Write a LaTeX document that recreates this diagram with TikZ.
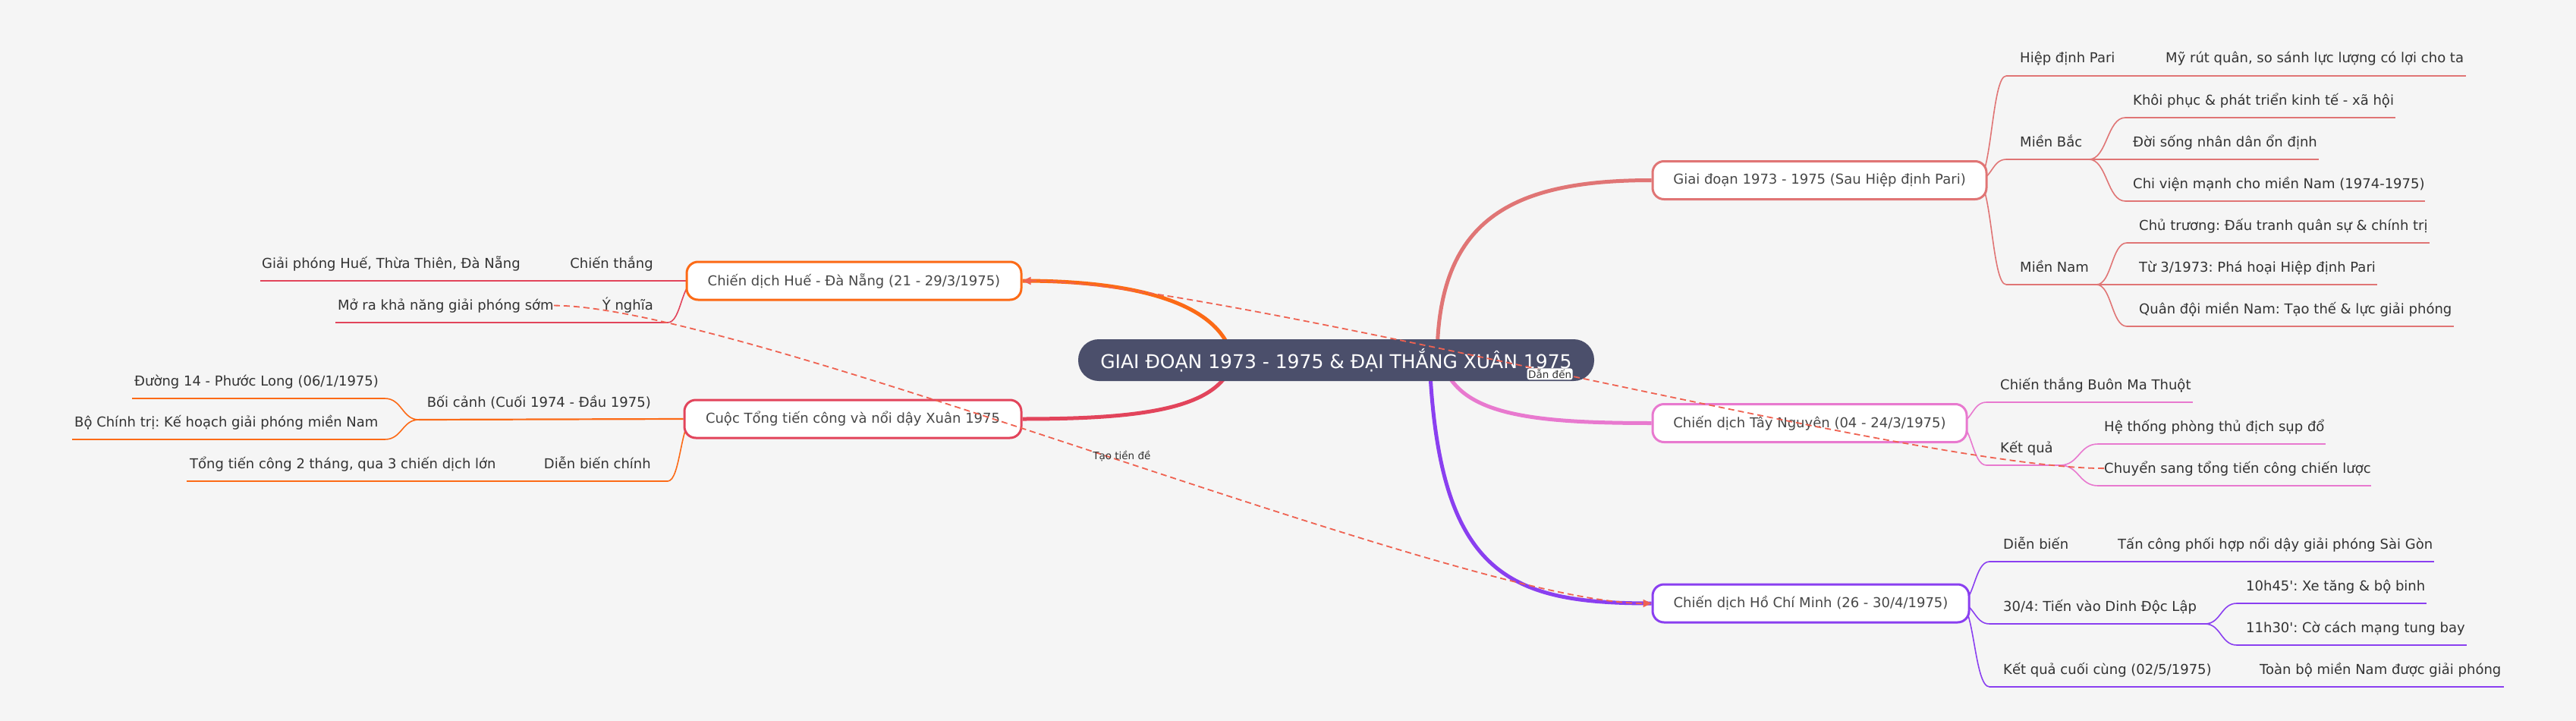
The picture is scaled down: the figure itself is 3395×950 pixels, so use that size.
\documentclass[tikz,border=0pt]{standalone}
\usepackage{fontspec}
\setmainfont{DejaVu Sans}[Ligatures=TeXOff]
\frenchspacing
\usetikzlibrary{arrows.meta}
\pgfdeclarelayer{back}
\pgfdeclarelayer{bg}
\pgfsetlayers{back,bg,main}
\definecolor{bgc}{HTML}{F5F5F5}
\definecolor{cSalmon}{HTML}{E07575}
\definecolor{cPink}{HTML}{E879CF}
\definecolor{cPurple}{HTML}{8A3FF0}
\definecolor{cOrange}{HTML}{FC6A16}
\definecolor{cRed}{HTML}{E2445B}
\definecolor{cDash}{HTML}{EF6251}
\definecolor{cCenter}{HTML}{4B4F6B}
\definecolor{cText}{HTML}{333333}
\begin{document}
\begin{tikzpicture}[x=1pt,y=-1pt,
  centernode/.style={fill=cCenter, rounded corners=27pt, minimum width=680pt, minimum height=55pt, inner sep=0pt, text=white, font=\fontsize{25pt}{30pt}\selectfont},
  branchnode/.style={draw, line width=3pt, rounded corners=15pt, fill=white, minimum height=50pt, inner sep=0pt, text=cText!90!white, font=\fontsize{18pt}{22pt}\selectfont},
  lbl/.style={inner sep=0pt, text=cText, font=\fontsize{18pt}{22pt}\selectfont},
  mainlink/.style={line width=5pt},
  sublink/.style={line width=2.2pt},
  curvelink/.style={line width=1.6pt},
  crosslink/.style={draw=cDash, line width=1.8pt, dash pattern=on 8pt off 5pt, -{Triangle[length=11pt,width=10pt]}},
  linklbl/.style={text=cText, font=\fontsize{13.5pt}{16pt}\selectfont, inner sep=1.5pt}
]
\begin{pgfonlayer}{back}
\fill[bgc] (0,0) rectangle (3395,950);
\end{pgfonlayer}
\useasboundingbox (0,0) rectangle (3395,950);

% ---------- nodes ----------
\node[centernode] (root) at (1761,474.5) {GIAI ĐOẠN 1973 - 1975 \& ĐẠI THẮNG XUÂN 1975};
\node[branchnode, draw=cSalmon, minimum width=440pt] (b1) at (2398,237.5) {Giai đoạn 1973 - 1975 (Sau Hiệp định Pari)};
\node[branchnode, draw=cPink, minimum width=414pt] (b2) at (2385,557.5) {Chiến dịch Tây Nguyên (04 - 24/3/1975)};
\node[branchnode, draw=cPurple, minimum width=417pt] (b3) at (2386.5,795) {Chiến dịch Hồ Chí Minh (26 - 30/4/1975)};
\node[branchnode, draw=cOrange, minimum width=441pt] (b4) at (1125.5,370) {Chiến dịch Huế - Đà Nẵng (21 - 29/3/1975)};
\node[branchnode, draw=cRed, minimum width=444pt] (b5) at (1124,552) {Cuộc Tổng tiến công và nổi dậy Xuân 1975};

% ---------- right texts ----------
\node[lbl, anchor=base west] (t11) at (2662,83) {Hiệp định Pari};
\node[lbl, anchor=base west] (t111) at (2854,83) {Mỹ rút quân, so sánh lực lượng có lợi cho ta};
\node[lbl, anchor=base west] (t12) at (2662,193) {Miền Bắc};
\node[lbl, anchor=base west] (t121) at (2811,138) {Khôi phục \& phát triển kinh tế - xã hội};
\node[lbl, anchor=base west] (t122) at (2811,193) {Đời sống nhân dân ổn định};
\node[lbl, anchor=base west] (t123) at (2811,248) {Chi viện mạnh cho miền Nam (1974-1975)};
\node[lbl, anchor=base west] (t13) at (2662,358) {Miền Nam};
\node[lbl, anchor=base west] (t131) at (2819,303) {Chủ trương: Đấu tranh quân sự \& chính trị};
\node[lbl, anchor=base west] (t132) at (2819,358) {Từ 3/1973: Phá hoại Hiệp định Pari};
\node[lbl, anchor=base west] (t133) at (2819,413) {Quân đội miền Nam: Tạo thế \& lực giải phóng};

\node[lbl, anchor=base west] (t21) at (2636,513) {Chiến thắng Buôn Ma Thuột};
\node[lbl, anchor=base west] (t22) at (2636,596) {Kết quả};
\node[lbl, anchor=base west] (t221) at (2773,568) {Hệ thống phòng thủ địch sụp đổ};
\node[lbl, anchor=base west] (t222) at (2773,623) {Chuyển sang tổng tiến công chiến lược};

\node[lbl, anchor=base west] (t31) at (2640,723) {Diễn biến};
\node[lbl, anchor=base west] (t311) at (2791,723) {Tấn công phối hợp nổi dậy giải phóng Sài Gòn};
\node[lbl, anchor=base west] (t32) at (2640,805) {30/4: Tiến vào Dinh Độc Lập};
\node[lbl, anchor=base west] (t321) at (2960,778) {10h45': Xe tăng \& bộ binh};
\node[lbl, anchor=base west] (t322) at (2960,833) {11h30': Cờ cách mạng tung bay};
\node[lbl, anchor=base west] (t33) at (2640,888) {Kết quả cuối cùng (02/5/1975)};
\node[lbl, anchor=base west] (t331) at (2978,888) {Toàn bộ miền Nam được giải phóng};

% ---------- left texts ----------
\node[lbl, anchor=base east] (t41) at (861,353) {Chiến thắng};
\node[lbl, anchor=base west] (t411) at (345,353) {Giải phóng Huế, Thừa Thiên, Đà Nẵng};
\node[lbl, anchor=base east] (t42) at (861,408) {Ý nghĩa};
\node[lbl, anchor=base west] (t421) at (445,408) {Mở ra khả năng giải phóng sớm};
\node[lbl, anchor=base east] (t51) at (858,536) {Bối cảnh (Cuối 1974 - Đầu 1975)};
\node[lbl, anchor=base west] (t511) at (177,508) {Đường 14 - Phước Long (06/1/1975)};
\node[lbl, anchor=base west] (t512) at (98,562) {Bộ Chính trị: Kế hoạch giải phóng miền Nam};
\node[lbl, anchor=base east] (t52) at (858,617) {Diễn biến chính};
\node[lbl, anchor=base west] (t521) at (250,617) {Tổng tiến công 2 tháng, qua 3 chiến dịch lớn};

% ---------- coordinates ----------
\coordinate (r1) at (1894,474);
\coordinate (r2) at (1900,474);
\coordinate (r3) at (1884,474);
\coordinate (r4) at (1625,474);
\coordinate (r5) at (1625,474);
\coordinate (b1c) at (2606,237.5);
\coordinate (b2c) at (2580,557.5);
\coordinate (b3c) at (2583,795);
\coordinate (b4c) at (917,370);
\coordinate (b5c) at (914,552);

\coordinate (l11s) at (2644,100);  \coordinate (l11e) at (2835,100); \coordinate (l111e) at (3250,100);
\coordinate (l12s) at (2644,210);  \coordinate (l12e) at (2753,210);
\coordinate (l121s) at (2801,155); \coordinate (l121e) at (3157,155);
\coordinate (l122e) at (3056,210);
\coordinate (l123s) at (2801,265); \coordinate (l123e) at (3196,265);
\coordinate (l13s) at (2644,375);  \coordinate (l13e) at (2763,375);
\coordinate (l131s) at (2803,320); \coordinate (l131e) at (3202,320);
\coordinate (l132e) at (3133,375);
\coordinate (l133s) at (2803,430); \coordinate (l133e) at (3234,430);

\coordinate (l21s) at (2618,530);  \coordinate (l21e) at (2890,530);
\coordinate (l22s) at (2618,613);  \coordinate (l22e) at (2715,613);
\coordinate (l221s) at (2765,585); \coordinate (l221e) at (3065,585);
\coordinate (l222s) at (2765,640); \coordinate (l222e) at (3125,640);

\coordinate (l31s) at (2622,740);  \coordinate (l31e) at (2772,740); \coordinate (l311e) at (3208,740);
\coordinate (l32s) at (2622,822);  \coordinate (l32e) at (2906,822);
\coordinate (l321s) at (2948,795); \coordinate (l321e) at (3198,795);
\coordinate (l322s) at (2948,850); \coordinate (l322e) at (3251,850);
\coordinate (l33s) at (2622,905);  \coordinate (l33e) at (2960,905); \coordinate (l331e) at (3300,905);

\coordinate (l41e) at (700,370); \coordinate (l411e) at (343,370);
\coordinate (l42s) at (880,425); \coordinate (l42e) at (740,425); \coordinate (l421e) at (442,425);
\coordinate (l51e) at (552,553);
\coordinate (l511s) at (507,525); \coordinate (l511e) at (174,525);
\coordinate (l512s) at (507,579); \coordinate (l512e) at (95,579);
\coordinate (l52s) at (880,634); \coordinate (l52e) at (700,634); \coordinate (l521e) at (246,634);

% ---------- tree connectors ----------
\begin{pgfonlayer}{bg}
\draw[mainlink, cSalmon] (r1) .. controls (1894,290) and (1990,237.5) .. (b1.west);
\draw[mainlink, cPink] (r2) .. controls (1920,545) and (2010,557.5) .. (b2.west);
\draw[mainlink, cPurple] (r3) .. controls (1896,760) and (1990,795) .. (b3.west);
\draw[mainlink, cOrange] (r4) .. controls (1610,400) and (1500,370) .. (b4.east);
\draw[mainlink, cRed] (r5) .. controls (1610,540) and (1500,552) .. (b5.east);

% node 1
\draw[curvelink, cSalmon] (b1c) .. controls (2625,237.5) and (2625,100) .. (l11s);
\draw[sublink, cSalmon] (l11s) -- (l11e);
\draw[sublink, cSalmon] (l11e) -- (l111e);
\draw[curvelink, cSalmon] (b1c) .. controls (2625,237.5) and (2625,210) .. (l12s);
\draw[sublink, cSalmon] (l12s) -- (l12e);
\draw[curvelink, cSalmon] (l12e) .. controls (2777,210) and (2777,155) .. (l121s);
\draw[sublink, cSalmon] (l121s) -- (l121e);
\draw[sublink, cSalmon] (l12e) -- (l122e);
\draw[curvelink, cSalmon] (l12e) .. controls (2777,210) and (2777,265) .. (l123s);
\draw[sublink, cSalmon] (l123s) -- (l123e);
\draw[curvelink, cSalmon] (b1c) .. controls (2625,237.5) and (2625,375) .. (l13s);
\draw[sublink, cSalmon] (l13s) -- (l13e);
\draw[curvelink, cSalmon] (l13e) .. controls (2783,375) and (2783,320) .. (l131s);
\draw[sublink, cSalmon] (l131s) -- (l131e);
\draw[sublink, cSalmon] (l13e) -- (l132e);
\draw[curvelink, cSalmon] (l13e) .. controls (2783,375) and (2783,430) .. (l133s);
\draw[sublink, cSalmon] (l133s) -- (l133e);

% node 2
\draw[curvelink, cPink] (b2c) .. controls (2599,557.5) and (2599,530) .. (l21s);
\draw[sublink, cPink] (l21s) -- (l21e);
\draw[curvelink, cPink] (b2c) .. controls (2599,557.5) and (2599,613) .. (l22s);
\draw[sublink, cPink] (l22s) -- (l22e);
\draw[curvelink, cPink] (l22e) .. controls (2740,613) and (2740,585) .. (l221s);
\draw[sublink, cPink] (l221s) -- (l221e);
\draw[curvelink, cPink] (l22e) .. controls (2740,613) and (2740,640) .. (l222s);
\draw[sublink, cPink] (l222s) -- (l222e);

% node 3
\draw[curvelink, cPurple] (b3c) .. controls (2602,795) and (2602,740) .. (l31s);
\draw[sublink, cPurple] (l31s) -- (l31e);
\draw[sublink, cPurple] (l31e) -- (l311e);
\draw[curvelink, cPurple] (b3c) .. controls (2602,795) and (2602,822) .. (l32s);
\draw[sublink, cPurple] (l32s) -- (l32e);
\draw[curvelink, cPurple] (l32e) .. controls (2927,822) and (2927,795) .. (l321s);
\draw[sublink, cPurple] (l321s) -- (l321e);
\draw[curvelink, cPurple] (l32e) .. controls (2927,822) and (2927,850) .. (l322s);
\draw[sublink, cPurple] (l322s) -- (l322e);
\draw[curvelink, cPurple] (b3c) .. controls (2602,795) and (2602,905) .. (l33s);
\draw[sublink, cPurple] (l33s) -- (l33e);
\draw[sublink, cPurple] (l33e) -- (l331e);

% node 4 (Hue)
\draw[sublink, cRed] (b4.west) -- (l41e);
\draw[sublink, cRed] (l41e) -- (l411e);
\draw[curvelink, cRed] (b4c) .. controls (898,370) and (898,425) .. (l42s);
\draw[sublink, cRed] (l42s) -- (l42e);
\draw[sublink, cRed] (l42e) -- (l421e);

% node 5
\draw[sublink, cOrange] (b5.west) -- (l51e);
\draw[curvelink, cOrange] (l51e) .. controls (530,553) and (530,525) .. (l511s);
\draw[sublink, cOrange] (l511s) -- (l511e);
\draw[curvelink, cOrange] (l51e) .. controls (530,553) and (530,579) .. (l512s);
\draw[sublink, cOrange] (l512s) -- (l512e);
\draw[curvelink, cOrange] (b5c) .. controls (897,552) and (897,634) .. (l52s);
\draw[sublink, cOrange] (l52s) -- (l52e);
\draw[sublink, cOrange] (l52e) -- (l521e);
\end{pgfonlayer}

% ---------- cross links ----------
\draw[crosslink] (t222.west) .. controls +(-250,0) and +(250,0) .. (b4.east)
  node[linklbl, pos=0.51, yshift=-3pt, fill=white, rounded corners=3pt] (lab1) {Dẫn đến};
\draw[crosslink] (t421.east) .. controls +(250,0) and +(-250,0) .. (b3.west)
  node[linklbl, pos=0.514, yshift=6pt] (lab2) {Tạo tiền đề};
\end{tikzpicture}
\end{document}
